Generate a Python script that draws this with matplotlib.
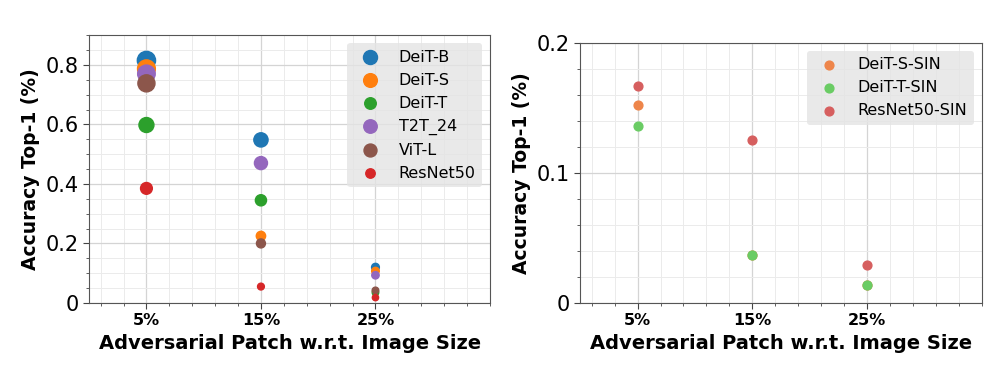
import numpy as np
import matplotlib
matplotlib.use("Agg")
import matplotlib.pyplot as plt
from matplotlib.ticker import AutoMinorLocator, FuncFormatter, MultipleLocator

# patch sizes (% of image)
patch = [5, 15, 25]
patch_labels = ['5%', '15%', '25%']

# left panel: standard models
models = ['DeiT-B', 'DeiT-S', 'DeiT-T', 'T2T_24', 'ViT-L', 'ResNet50']
deit_b = [0.815, 0.548, 0.120]
deit_s = [0.787, 0.225, 0.107]
deit_t = [0.598, 0.345, 0.035]
t2t_24 = [0.770, 0.470, 0.093]
vit_l = [0.738, 0.200, 0.042]
resnet50 = [0.385, 0.055, 0.018]
left_vals = [deit_b, deit_s, deit_t, t2t_24, vit_l, resnet50]
left_colors = ['#1f77b4', '#ff7f0e', '#2ca02c', '#9467bd', '#8c564b', '#d62728']

# right panel: stylized-ImageNet models
sin_models = ['DeiT-S-SIN', 'DeiT-T-SIN', 'ResNet50-SIN']
deit_s_sin = [0.152, 0.037, 0.014]
deit_t_sin = [0.136, 0.037, 0.014]
resnet50_sin = [0.167, 0.125, 0.029]
right_vals = [deit_s_sin, deit_t_sin, resnet50_sin]
right_colors = ['#ee854a', '#6acc64', '#d65f5f']


def yfmt(v, pos):
    if abs(v) < 1e-9:
        return '0'
    return '%.1f' % v


def style_axes(ax, ymax, ystep):
    ax.set_xlim(0, 35)
    ax.set_ylim(0, ymax)
    ax.set_xticks(patch)
    ax.set_xticklabels(patch_labels, fontsize=11.5, fontweight='bold')
    ax.yaxis.set_major_locator(MultipleLocator(ystep))
    ax.yaxis.set_major_formatter(FuncFormatter(yfmt))
    ax.xaxis.set_minor_locator(AutoMinorLocator())
    ax.yaxis.set_minor_locator(AutoMinorLocator())
    ax.tick_params(axis='y', labelsize=15)
    ax.tick_params(which='major', length=4, color='#444444')
    ax.tick_params(which='minor', length=2.5, color='#444444')
    ax.grid(which='major', color='#d4d4d4', lw=0.9)
    ax.grid(which='minor', color='#ebebeb', lw=0.7)
    ax.set_axisbelow(True)
    for sp in ax.spines.values():
        sp.set_color('#555555')
    ax.set_xlabel('Adversarial Patch w.r.t. Image Size', fontsize=14, fontweight='bold')
    ax.set_ylabel('Accuracy Top-1 (%)', fontsize=13.5, fontweight='bold')


fig = plt.figure(figsize=(10.02, 3.74), dpi=100)
ax1 = fig.add_axes([0.089, 0.19, 0.400, 0.716])
ax2 = fig.add_axes([0.579, 0.19, 0.401, 0.695])

for name, vals, c in zip(models, left_vals, left_colors):
    v = np.array(vals)
    s = (0.72 * (6 + 15 * v)) ** 2
    ax1.scatter(patch, v, s=s, color=c, label=name, zorder=3)
style_axes(ax1, 0.9, 0.2)
ax1.legend(loc='upper right', fontsize=11.5, facecolor='#e4e4e4', edgecolor='none',
           framealpha=0.8)

for name, vals, c in zip(sin_models, right_vals, right_colors):
    ax2.scatter(patch, vals, s=40, color=c, label=name, zorder=3)
style_axes(ax2, 0.2, 0.1)
ax2.legend(loc='upper right', fontsize=11.5, facecolor='#e4e4e4', edgecolor='none',
           framealpha=0.8)

fig.savefig('out.png', dpi=100)
